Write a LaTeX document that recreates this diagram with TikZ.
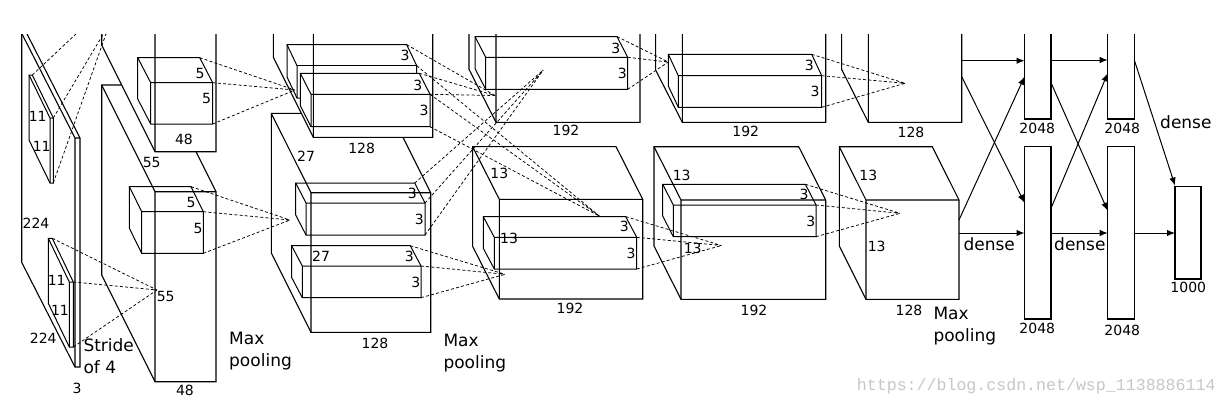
\documentclass[tikz,border=0pt]{standalone}
\usepackage{fontspec}
\setmainfont{DejaVu Sans}
\newfontfamily\wmfont{Liberation Mono}
\usetikzlibrary{arrows.meta}
\tikzset{
  bigbox/.style={draw, fill=white, line width=1.1pt},
  kern/.style={draw, line width=1pt},
  conn/.style={line width=0.75pt, dash pattern=on 3pt off 2.2pt},
  arr/.style={line width=1pt, -{Latex[length=8pt,width=6.5pt]}},
  fcbox/.style={draw, fill=white, line width=1.1pt},
  numlab/.style={inner sep=0pt, font=\fontsize{14}{16}\selectfont},
  wordlab/.style={inner sep=0pt, anchor=base west, font=\fontsize{17}{19}\selectfont},
}
% [style]{name}{x0}{y0}{x1}{y1}{dx}{dy}: front face (x0,y0)-(x1,y1), back offset (dx,dy)
\newcommand{\mycuboid}[8][]{%
  \path[#1] (#3,#6) -- ({#3+(#7)},{#6+(#8)}) -- ({#3+(#7)},{#4+(#8)}) -- ({#5+(#7)},{#4+(#8)}) -- (#5,#4) -- (#5,#6) -- cycle;
  \path[#1, fill=none] (#3,#6) -- (#3,#4) -- (#5,#4) (#3,#4) -- ({#3+(#7)},{#4+(#8)});
  \coordinate (#2-btr) at ({#5+(#7)},{#4+(#8)});
  \coordinate (#2-ftr) at (#5,#4);
  \coordinate (#2-fbr) at (#5,#6);
}
\newcommand{\numl}[4]{\node[numlab] (#1) at (#2,#3) {#4};}
\newcommand{\wordl}[4]{\node[wordlab] (#1) at (#2,#3) {#4};}
\begin{document}
\begin{tikzpicture}[x=1pt,y=-1pt]
\useasboundingbox (0,0) rectangle (1229,405);
\fill[white] (0,0) rectangle (1229,405);
\begin{scope}
\clip (0,34) rectangle (1229,405);
% ---------- big boxes (back to front) ----------
\mycuboid[bigbox]{inp}{75}{138}{80}{367}{-53.3}{-104.7}
\mycuboid[bigbox]{c1b}{155}{191.7}{216}{381.7}{-53.3}{-106.7}
\mycuboid[bigbox]{c1t}{155}{-120}{216}{151.7}{-53.3}{-106.7}
\mycuboid[bigbox]{c2b}{311}{192.7}{430.7}{332.3}{-39.7}{-79.3}
\mycuboid[bigbox]{c2t}{313.3}{-120}{432.7}{137.3}{-40}{-80}
\mycuboid[bigbox]{c3t}{496}{-120}{640}{122.3}{-27}{-53}
\mycuboid[bigbox]{c3b}{499.3}{199.3}{642.7}{299}{-26.7}{-52.7}
\mycuboid[bigbox]{c4t}{682.3}{-120}{825.7}{122.3}{-26.7}{-52.3}
\mycuboid[bigbox]{c4b}{681}{200}{825.7}{299.3}{-27}{-53.3}
\mycuboid[bigbox]{c5t}{868.3}{-120}{961.7}{122.3}{-26.7}{-53}
\mycuboid[bigbox]{c5b}{866}{200}{959}{299.3}{-26.7}{-53.3}
% ---------- kernels ----------
\mycuboid[kern]{ki1}{50}{118}{53.3}{183}{-21}{-43}
\mycuboid[kern]{ki2}{69.3}{282}{73.3}{347}{-21}{-43.7}
\mycuboid[kern]{k1t}{150.7}{82.7}{212.7}{124}{-13}{-25}
\mycuboid[kern]{k1b}{141.7}{211.7}{203.3}{253.3}{-12.3}{-25}
% kernel A (partly hidden behind kernel B)
\draw[line width=1pt] (287,77) -- (287,44.7) -- (406.7,44.7) -- (416.7,65.7) -- (416.7,73.3);
\draw[line width=1pt] (297,65.7) -- (416.7,65.7);
\draw[line width=1pt] (287,44.7) -- (297,65.7) -- (297,98) -- (300.3,98);
\draw[line width=1pt] (287,77) -- (297,98);
\coordinate (kA-btr) at (406.7,44.7);
\coordinate (kA-ftr) at (416.7,65.7);
\mycuboid[kern]{kB}{311}{94.3}{430}{126.7}{-10.7}{-21}
\mycuboid[kern]{kC}{306}{203}{425}{235}{-10.3}{-20}
\mycuboid[kern]{kD}{302.3}{266}{421}{297.7}{-10.7}{-20.3}
\mycuboid[kern]{k3t}{485.7}{57.3}{627.7}{89.3}{-10.7}{-20.7}
\mycuboid[kern]{k3b}{494.3}{237.3}{636.7}{269}{-11}{-20.7}
\mycuboid[kern]{k4t}{678.3}{75.7}{821.7}{107.3}{-10}{-21.4}
\mycuboid[kern]{k4b}{673.3}{205}{816}{236.7}{-10.6}{-20.7}
% ---------- convergence points ----------
\coordinate (Q1) at (80.2,30);
\coordinate (Q2) at (105.7,30);
\coordinate (Q3) at (107.4,30);
\coordinate (P1b) at (157,290);
\coordinate (P2t) at (295,90);
\coordinate (P2b) at (290,220);
\coordinate (P3t) at (495,95.5);
\coordinate (P3tc) at (543.3,70);
\coordinate (P3b) at (600,216.5);
\coordinate (P3bd) at (505,274.3);
\coordinate (P4t) at (668.3,62);
\coordinate (P4b) at (721.5,245.5);
\coordinate (P5t) at (905,83.3);
\coordinate (P5b) at (900,213.3);
% ---------- dashed connections ----------
\draw[conn] (ki1-btr) -- (Q1) (ki1-ftr) -- (Q2) (ki1-fbr) -- (Q3);
\draw[conn] (ki2-btr) -- (P1b) (ki2-ftr) -- (P1b) (ki2-fbr) -- (P1b);
\draw[conn] (k1t-btr) -- (P2t) (k1t-ftr) -- (P2t) (k1t-fbr) -- (P2t);
\draw[conn] (k1b-btr) -- (P2b) (k1b-ftr) -- (P2b) (k1b-fbr) -- (P2b);
\draw[conn] (kA-btr) -- (P3t) (kB-btr) -- (P3t) (kB-ftr) -- (P3t);
\draw[conn] (kA-ftr) -- (P3b) (kB-ftr) -- (P3b) (kB-fbr) -- (P3b);
\draw[conn] (kC-btr) -- (P3tc) (kC-ftr) -- (P3tc) (kC-fbr) -- (P3tc);
\draw[conn] (kD-btr) -- (P3bd) (kD-ftr) -- (P3bd) (kD-fbr) -- (P3bd);
\draw[conn] (k3t-btr) -- (P4t) (k3t-ftr) -- (P4t) (k3t-fbr) -- (P4t);
\draw[conn] (k3b-btr) -- (P4b) (k3b-ftr) -- (P4b) (k3b-fbr) -- (P4b);
\draw[conn] (k4t-btr) -- (P5t) (k4t-ftr) -- (P5t) (k4t-fbr) -- (P5t);
\draw[conn] (k4b-btr) -- (P5b) (k4b-ftr) -- (P5b) (k4b-fbr) -- (P5b);
% ---------- fully connected layers ----------
\path[fcbox] (1024.5,0) rectangle (1051,119);
\path[fcbox] (1024.5,146.7) rectangle (1051,319);
\path[fcbox] (1107.7,0) rectangle (1134.3,119);
\path[fcbox] (1107.7,146.7) rectangle (1134.3,319);
\path[fcbox] (1175,186.7) rectangle (1201,279);
\coordinate (a1s) at (961.7,60.7);   \coordinate (a1e) at (1024.5,60.7);
\coordinate (a2s) at (961.7,76.7);   \coordinate (a2e) at (1024.5,202.7);
\coordinate (a3s) at (959,220);      \coordinate (a3e) at (1024.5,76.7);
\coordinate (a4s) at (959,233);      \coordinate (a4e) at (1024.5,233);
\coordinate (b1s) at (1051,60);      \coordinate (b1e) at (1107.7,60);
\coordinate (b2s) at (1051,82.7);    \coordinate (b2e) at (1107.7,210.7);
\coordinate (b3s) at (1051,208.3);   \coordinate (b3e) at (1107.7,73.3);
\coordinate (b4s) at (1051,233);     \coordinate (b4e) at (1107.7,233);
\coordinate (c1s) at (1134.3,60);    \coordinate (c1e) at (1175,185.5);
\coordinate (c2s) at (1134.3,233);   \coordinate (c2e) at (1175,233);
\foreach \s/\e in {a1s/a1e,a2s/a2e,a3s/a3e,a4s/a4e,b1s/b1e,b2s/b2e,b3s/b3e,b4s/b4e,c1s/c1e,c2s/c2e}
  \draw[arr] (\s) -- (\e);
\end{scope}
% ---------- labels ----------
\numl{i11a}{37.7}{116.7}{11}
\numl{i11b}{41.7}{146.7}{11}
\numl{i224a}{36}{223}{224}
\numl{i11c}{56.7}{280}{11}
\numl{i11d}{60}{310}{11}
\numl{i224b}{43.3}{338}{224}
\numl{i3}{77}{388}{3}
\numl{c1k5a}{200}{73.3}{5}
\numl{c1k5b}{206.7}{98.3}{5}
\numl{c1t48}{184}{139}{48}
\numl{c155a}{151.7}{162.3}{55}
\numl{c1k5c}{191}{202}{5}
\numl{c1k5d}{198}{228}{5}
\numl{c155b}{165.7}{296.7}{55}
\numl{c1b48}{185}{390}{48}
\numl{c2A3}{405}{55}{3}
\numl{c2B3a}{417.7}{85}{3}
\numl{c2B3b}{424}{110}{3}
\numl{c2t128}{361.7}{148.3}{128}
\numl{c227a}{306}{156}{27}
\numl{c2C3a}{412.3}{193.3}{3}
\numl{c2C3b}{419.3}{219.3}{3}
\numl{c227b}{321}{256}{27}
\numl{c2D3a}{409.3}{256.7}{3}
\numl{c2D3b}{415.7}{282.7}{3}
\numl{c2b128}{375}{343.3}{128}
\numl{c3t3a}{615.7}{48.3}{3}
\numl{c3t3b}{622.3}{73.3}{3}
\numl{c3t192}{566}{130}{192}
\numl{c313a}{499.3}{173.3}{13}
\numl{c313b}{509}{238.3}{13}
\numl{c3b3a}{624.3}{226.7}{3}
\numl{c3b3b}{631}{253.3}{3}
\numl{c3b192}{570}{308.3}{192}
\numl{c4t3a}{809.3}{65.7}{3}
\numl{c4t3b}{815}{91.7}{3}
\numl{c4t192}{745.7}{131.7}{192}
\numl{c413a}{681.7}{175}{13}
\numl{c4b3a}{804}{194.3}{3}
\numl{c4b3b}{810.7}{221}{3}
\numl{c413b}{692.7}{248.3}{13}
\numl{c4b192}{754}{310}{192}
\numl{c5t128}{911}{132.7}{128}
\numl{c513a}{868.3}{175}{13}
\numl{c513b}{876.7}{246.7}{13}
\numl{c5b128}{909}{310.7}{128}
\numl{f2048a}{1037.3}{128.3}{2048}
\numl{f2048b}{1037.3}{328.3}{2048}
\numl{f2048c}{1122.3}{128.3}{2048}
\numl{f2048d}{1122.3}{330}{2048}
\numl{f1000}{1188.3}{287.3}{1000}
\wordl{w1}{83.3}{351.7}{Stride}
\wordl{w2}{83.3}{373.3}{of 4}
\wordl{w3}{229}{344}{Max}
\wordl{w4}{229}{366}{pooling}
\wordl{w5}{443.3}{346.5}{Max}
\wordl{w6}{443.3}{368.5}{pooling}
\wordl{w7}{933.3}{319.5}{Max}
\wordl{w8}{933.3}{341}{pooling}
\wordl{w9}{963.3}{250}{dense}
\wordl{w10}{1054}{250}{dense}
\wordl{w11}{1160}{128.3}{dense}
\node[inner sep=0pt, anchor=base west, text=black!22, font=\fontsize{16.6}{18}\selectfont\wmfont] (wm) at (856.7,390.5) {https://blog.csdn.net/wsp\_1138886114};
\end{tikzpicture}
\end{document}
